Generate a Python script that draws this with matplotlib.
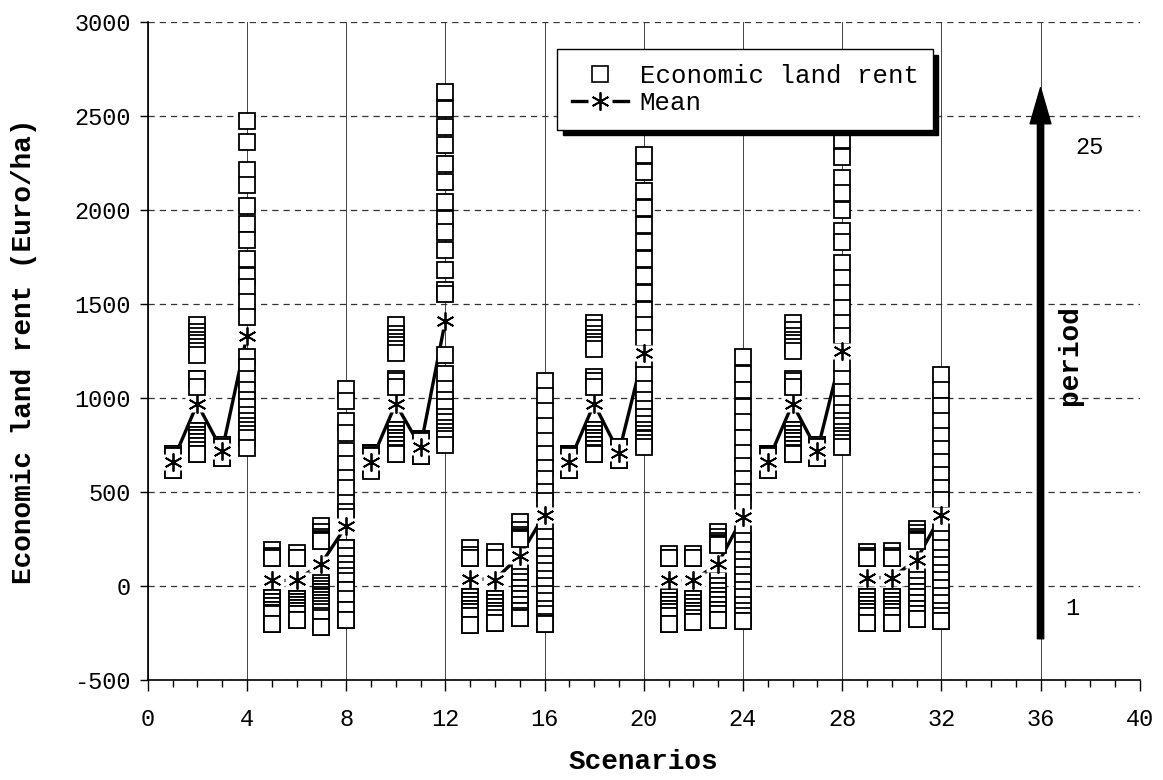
import numpy as np
import matplotlib.pyplot as plt
from matplotlib.lines import Line2D

# economic land rent (Euro/ha) per scenario, 25 periods each
scenarios = list(range(1, 33))

rent_s01 = [700,700,700,700,700,700,700,700,700,700,700,700,700,700,700,700,700,700,700,700,690,690,615,615,615]
rent_s02 = [1390,1350,1330,1310,1290,1270,1250,1230,1100,1100,1060,825,825,805,805,785,785,765,765,745,745,725,700,700,700]
rent_s03 = [750,750,750,750,750,750,750,750,750,750,740,740,740,740,740,740,740,740,700,700,690,690,680,680,680]
rent_s04 = [2475,2360,2210,2130,2020,1925,1840,1740,1650,1590,1510,1430,1220,1165,1100,1040,990,950,910,880,850,830,810,785,735]
rent_s05 = [190,160,155,150,150,-65,-65,-65,-85,-85,-85,-105,-105,-105,-125,-125,-125,-145,-145,-145,-150,-200,-200,-200,-200]
rent_s06 = [175,150,150,-70,-70,-85,-85,-85,-100,-100,-100,-115,-115,-115,-130,-130,-130,-150,-150,-180,-180,-180,-180,-180,-180]
rent_s07 = [320,290,260,250,245,240,238,15,0,-15,-30,-30,-45,-60,-60,-75,-90,-90,-105,-120,-140,-160,-170,-215,-215]
rent_s08 = [1050,985,880,815,720,650,575,520,440,395,365,205,205,160,120,85,55,25,-20,-20,-70,-125,-125,-180,-180]
rent_s09 = [710,710,710,710,710,710,710,710,710,710,710,710,710,710,710,700,700,700,700,700,690,690,620,620,610]
rent_s10 = [1390,1340,1320,1300,1280,1260,1240,1100,1090,1060,830,830,810,810,790,790,770,770,750,750,730,730,710,700,700]
rent_s11 = [780,780,780,780,780,775,775,775,770,770,770,770,700,700,700,695,695,695,690,690,690,690,690,690,690]
rent_s12 = [2627,2539,2442,2344,2243,2146,2040,1951,1881,1787,1683,1572,1554,1230,1130,1050,990,950,900,870,840,820,800,780,750]
rent_s13 = [205,165,150,150,-60,-60,-60,-80,-80,-80,-100,-100,-100,-120,-120,-120,-140,-140,-140,-160,-160,-205,-205,-205,-205]
rent_s14 = [180,150,150,150,-70,-70,-90,-90,-90,-110,-110,-110,-130,-130,-130,-150,-150,-150,-170,-195,-195,-195,-195,-195,-195]
rent_s15 = [340,300,270,260,255,250,110,80,50,20,-10,-10,-40,-40,-70,-70,-100,-100,-130,-130,-160,-170,-170,-170,-170]
rent_s16 = [1090,1010,930,850,770,700,630,570,500,450,310,260,210,160,120,80,40,0,-40,-80,-120,-150,-190,-200,-200]
rent_s17 = [700,700,700,700,700,700,700,700,700,700,700,700,700,700,700,700,700,700,695,695,690,690,620,615,615]
rent_s18 = [1400,1370,1340,1320,1300,1280,1260,1110,1090,1060,830,830,810,810,790,790,770,770,750,750,730,730,710,700,700]
rent_s19 = [740,740,740,740,740,740,740,740,740,740,740,740,680,680,680,680,680,680,670,670,670,670,670,670,670]
rent_s20 = [2290,2200,2100,2010,1920,1830,1740,1650,1560,1470,1390,1320,1200,1120,1050,990,940,900,860,830,810,790,780,760,740]
rent_s21 = [170,150,150,-60,-60,-80,-80,-80,-100,-100,-100,-120,-120,-120,-140,-140,-140,-160,-160,-200,-200,-200,-200,-200,-200]
rent_s22 = [170,150,150,-70,-70,-90,-90,-90,-110,-110,-110,-130,-130,-130,-150,-150,-170,-190,-190,-190,-190,-190,-190,-190,-190]
rent_s23 = [290,260,240,230,225,220,60,30,0,-25,-25,-50,-50,-75,-75,-100,-100,-125,-125,-150,-150,-180,-180,-180,-180]
rent_s24 = [1220,1130,1040,950,870,790,710,640,570,500,440,290,240,190,140,100,60,20,-20,-60,-100,-130,-160,-185,-185]
rent_s25 = [700,700,700,700,700,700,700,700,700,700,700,700,700,700,700,700,700,700,695,695,690,690,620,615,615]
rent_s26 = [1400,1360,1330,1310,1290,1270,1250,1100,1090,1060,830,830,810,810,790,790,770,770,750,750,730,730,710,700,700]
rent_s27 = [750,750,750,750,750,750,750,750,750,750,740,740,740,740,740,740,740,740,700,700,690,690,680,680,680]
rent_s28 = [2370,2280,2170,2090,2000,1890,1830,1720,1640,1560,1480,1400,1330,1180,1100,1030,970,920,880,850,820,800,780,760,740]
rent_s29 = [180,160,150,150,-60,-60,-80,-80,-80,-100,-100,-100,-120,-120,-120,-140,-140,-160,-160,-195,-195,-195,-195,-195,-195]
rent_s30 = [185,160,150,150,-60,-60,-80,-80,-100,-100,-100,-120,-120,-120,-140,-140,-160,-160,-195,-195,-195,-195,-195,-195,-195]
rent_s31 = [305,280,260,250,245,240,60,30,0,-30,-30,-60,-60,-90,-90,-120,-120,-150,-150,-175,-175,-175,-175,-175,-175]
rent_s32 = [1120,1040,960,880,800,730,660,590,520,460,300,250,200,150,110,70,30,-10,-50,-90,-130,-160,-185,-185,-185]

mean_rent = [660,970,720,1330, 30,30,120,320,
             660,970,740,1410, 40,35,160,380,
             660,970,710,1240, 30,30,120,370,
             660,970,720,1250, 45,45,140,380]

rents = [rent_s01, rent_s02, rent_s03, rent_s04, rent_s05, rent_s06, rent_s07, rent_s08,
         rent_s09, rent_s10, rent_s11, rent_s12, rent_s13, rent_s14, rent_s15, rent_s16,
         rent_s17, rent_s18, rent_s19, rent_s20, rent_s21, rent_s22, rent_s23, rent_s24,
         rent_s25, rent_s26, rent_s27, rent_s28, rent_s29, rent_s30, rent_s31, rent_s32]

plt.rcParams['font.family'] = ['Liberation Mono', 'DejaVu Sans Mono']
plt.rcParams['font.size'] = 17
plt.rcParams['axes.unicode_minus'] = False

fig = plt.figure(figsize=(11.63, 7.8), dpi=100)
ax = fig.add_axes([0.127, 0.128, 0.853, 0.844])

star = (6, 2, 0)
# wide white box drawn behind each mean marker
box = [(-0.72, -0.5), (0.72, -0.5), (0.72, 0.5), (-0.72, 0.5), (-0.72, -0.5)]

# mean line, connected within each block of 4 scenarios
for g in range(0, 32, 4):
    ax.plot(scenarios[g:g+4], mean_rent[g:g+4], color='k', lw=2.4, zorder=2)

for s, vals in zip(scenarios, rents):
    ax.plot([s] * len(vals), vals, ls='none', marker='s', ms=11.5,
            mfc='white', mec='k', mew=1.3, zorder=3)

ax.plot(scenarios, mean_rent, ls='none', marker=box, ms=17, mfc='white', mec='none', zorder=4)
ax.plot(scenarios, mean_rent, ls='none', marker=star, ms=13, mec='k', mew=1.3, zorder=5)

ax.set_xlim(0, 40)
ax.set_ylim(-500, 3000)
ax.set_xticks(np.arange(0, 41, 4))
ax.set_xticks(np.arange(0, 41, 1), minor=True)
ax.set_yticks(np.arange(-500, 3001, 500))
ax.tick_params(axis='x', which='major', direction='out', length=8, width=1, pad=12)
ax.tick_params(axis='x', which='minor', direction='out', length=5, width=1)
ax.tick_params(axis='y', direction='out', length=6, width=1, pad=6)

ax.grid(axis='y', ls=(0, (5, 4)), color='#333333', lw=0.9)
ax.grid(axis='x', which='major', ls='-', color='#444444', lw=0.7)
ax.set_axisbelow(True)
for side in ['top', 'right']:
    ax.spines[side].set_visible(False)
ax.spines['left'].set_linewidth(1.2)
ax.spines['bottom'].set_linewidth(1.2)

ax.set_xlabel('Scenarios', fontweight='bold', fontsize=20, labelpad=13)
ax.set_ylabel('Economic land rent (Euro/ha)', fontweight='bold', fontsize=20, labelpad=27)

# period arrow
ax.annotate('', xy=(36, 2650), xytext=(36, -280),
            arrowprops=dict(width=4.5, headwidth=15, headlength=26, color='k', shrink=0))
ax.text(37.4, 2330, '25', ha='left', va='center')
ax.text(37.0, -120, '1', ha='left', va='center')
ax.text(37.2, 1230, 'period', rotation=90, fontweight='bold', fontsize=20,
        ha='center', va='center')

mean_handle = (Line2D([], [], color='k', lw=2.4),
               Line2D([], [], ls='none', marker=box, ms=17, mfc='white', mec='none'),
               Line2D([], [], ls='none', marker=star, ms=13, mec='k', mew=1.3))
rent_handle = Line2D([], [], ls='none', marker='s', ms=11.5, mfc='white', mec='k', mew=1.2)
leg = ax.legend([rent_handle, mean_handle], ['Economic land rent', 'Mean'], loc='upper left',
                bbox_to_anchor=(0.413, 0.958), borderaxespad=0, fancybox=False,
                framealpha=1, edgecolor='k', fontsize=18.5, handlelength=2.2,
                handletextpad=0.45, borderpad=0.55, labelspacing=0.15,
                shadow={'ox': 4, 'oy': -4, 'color': 'k', 'alpha': 1})
leg.get_frame().set_linewidth(1)
leg.set_zorder(10)

fig.savefig('out.png', dpi=100)
